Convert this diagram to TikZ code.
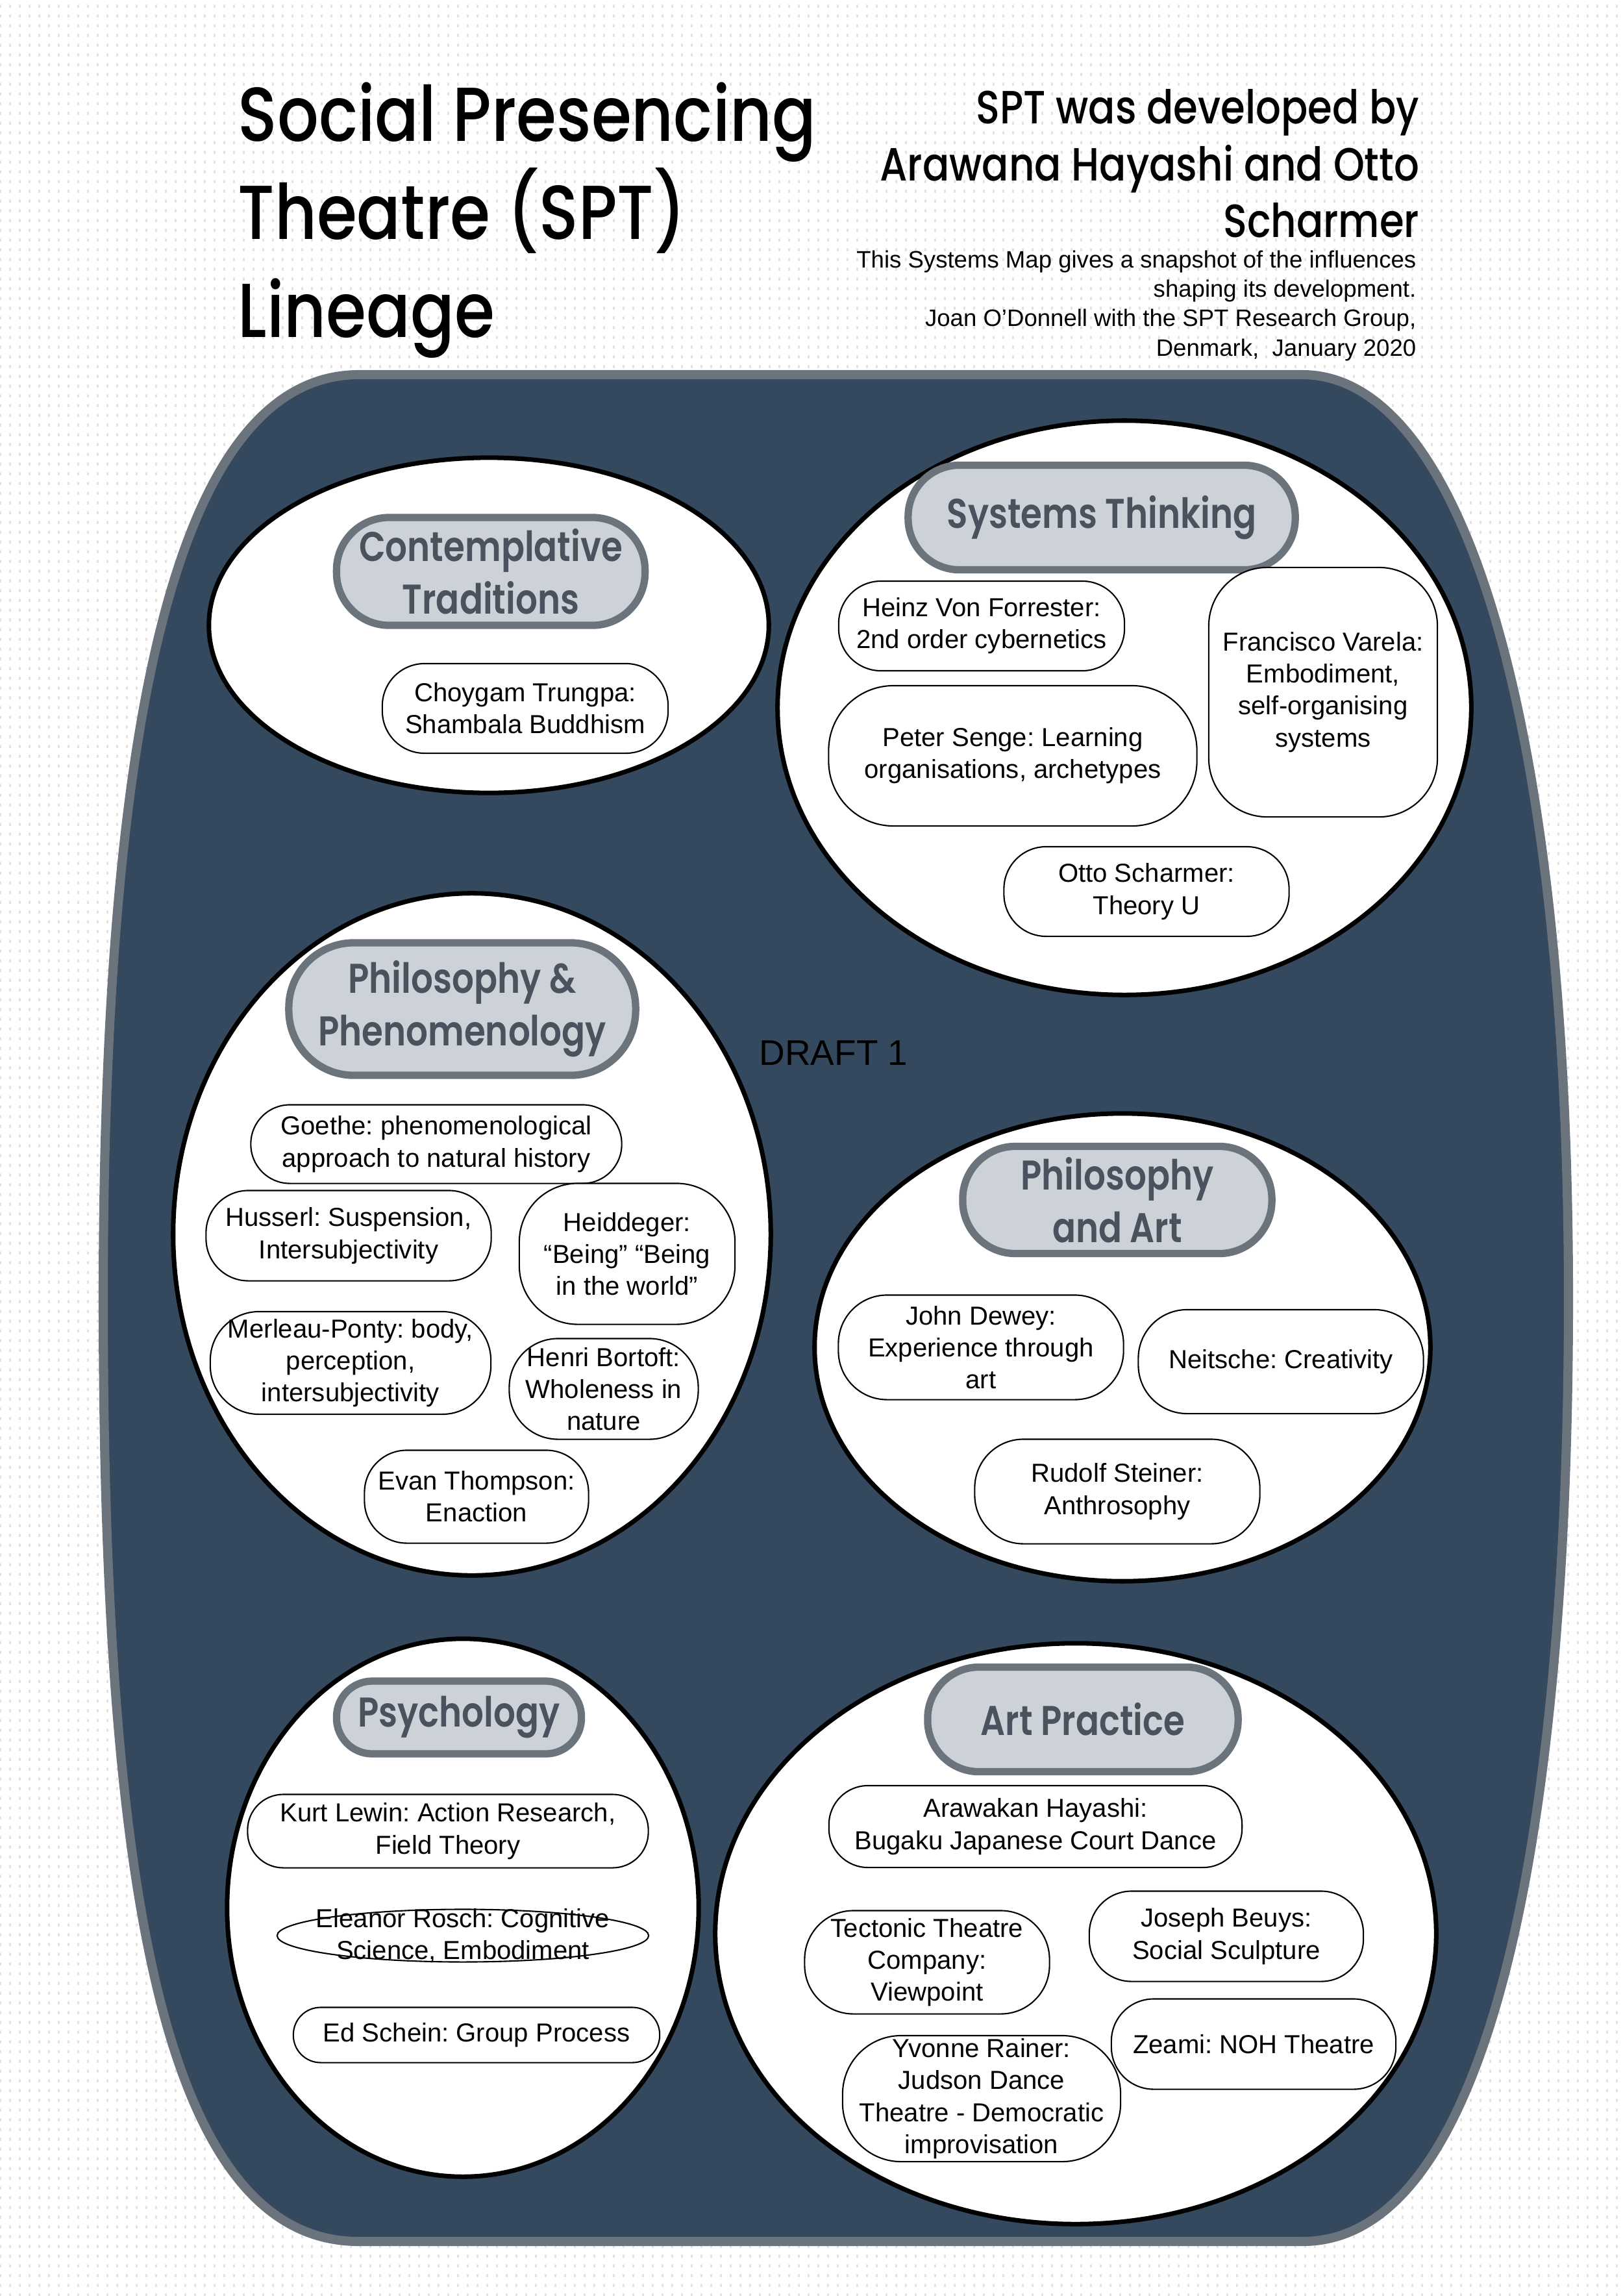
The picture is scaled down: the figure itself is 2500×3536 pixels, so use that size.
\documentclass[tikz,border=0pt]{standalone}
\usepackage{fontspec}
\setmainfont{Liberation Sans}
\newfontfamily\geofont{Poppins Medium}[FakeStretch=0.85]
\newfontfamily\geobold{Poppins SemiBold}[FakeStretch=0.83]
\usetikzlibrary{shapes.geometric, patterns.meta}
\frenchspacing

\definecolor{slate}{HTML}{35495E}
\definecolor{rim}{HTML}{6B737D}
\definecolor{pillfill}{HTML}{CDD1D8}
\definecolor{pilltext}{HTML}{4A525D}
\definecolor{paper}{HTML}{E2E2E2}

\newcommand\titlefont{\geofont\fontsize{33.5}{43}\selectfont}
\newcommand\devfont{\geofont\fontsize{20.4}{24.8}\selectfont}
\newcommand\badgefont{\geobold\fontsize{18.2}{23}\selectfont}
\newcommand\creditfont{\fontsize{10.4}{12.9}\selectfont}
\newcommand\ideafont{\fontsize{11.4}{14}\selectfont}

\tikzdeclarepattern{
  name=paperdots,
  type=uncolored,
  bounding box={(0,0) and (0.15,0.15)},
  tile size={(0.15,0.15)},
  code={\fill (0,0) rectangle (0.03,0.05);}
}

\tikzset{
  field/.style={ellipse, draw=black, line width=2pt, fill=white, inner sep=0pt},
  badge/.style={draw=rim, line width=3.2pt, fill=pillfill, rounded corners=#1,
    text=pilltext, align=center, font=\badgefont, inner sep=0pt},
  idea/.style={draw=black, line width=0.6pt, fill=white, rounded corners=#1,
    align=center, font=\ideafont, inner sep=0pt},
  idea/.default=0.65cm
}

\begin{document}
\begin{tikzpicture}[x=0.01cm, y=-0.01cm]
    \useasboundingbox (0,0) rectangle (2500,3536);
    \fill[pattern=paperdots, pattern color=paper] (0,0) rectangle (2500,3536);

    % the big slate board
    \draw[line width=4pt, draw=rim, fill=slate] (553,577) -- (2006,577)
        .. controls (2250,577) and (2416,1100) .. (2416,2000)
        .. controls (2416,2800) and (2300,3452) .. (2006,3452) -- (553,3452)
        .. controls (250,3452) and (159,2900) .. (159,2000)
        .. controls (159,1200) and (250,577) .. (553,577) -- cycle;

    % headings
    \node[anchor=north west, align=left, font=\titlefont, inner sep=0pt] (title) at (366,126)
        {Social Presencing\\Theatre (SPT)\\Lineage};
    \node[anchor=north east, align=right, font=\devfont, inner sep=0pt] (developers) at (2187,137)
        {SPT was developed by\\Arawana Hayashi and Otto\\Scharmer};
    \node[anchor=north east, align=right, font=\creditfont, inner sep=0pt] (credits) at (2182,385)
        {This Systems Map gives a snapshot of the influences\\shaping its development.\\Joan O’Donnell with the SPT Research Group,\\Denmark,~ January 2020};
    \node[font=\fontsize{15.6}{18}\selectfont] (draft) at (1284,1622) {DRAFT 1};

    % the six fields
    \node[field, minimum width=8.62cm, minimum height=5.16cm] (contemplative) at (753,963) {};
    \node[field, minimum width=10.68cm, minimum height=8.84cm] (systems) at (1732,1090) {};
    \node[field, minimum width=9.20cm, minimum height=10.50cm] (phenomenology) at (727,1901) {};
    \node[field, minimum width=9.48cm, minimum height=7.20cm] (philart) at (1729,2075) {};
    \node[field, minimum width=7.26cm, minimum height=8.28cm] (psychology) at (713,2938) {};
    \node[field, minimum width=11.10cm, minimum height=8.94cm] (practice) at (1657,2978) {};

    % field badges
    \node[badge=0.81cm, minimum width=4.75cm, minimum height=1.66cm] (contemplativeB) at (756,880) {Contemplative\\Traditions};
    \node[badge=0.79cm, minimum width=5.96cm, minimum height=1.61cm] (systemsB) at (1697,797) {Systems Thinking};
    \node[badge=1cm, minimum width=5.34cm, minimum height=2.04cm] (phenomenologyB) at (712,1554) {Philosophy \&\\Phenomenology};
    \node[badge=0.81cm, minimum width=4.76cm, minimum height=1.65cm] (philartB) at (1721,1848) {Philosophy\\and Art};
    \node[badge=0.55cm, minimum width=3.77cm, minimum height=1.12cm] (psychologyB) at (707,2645) {Psychology};
    \node[badge=0.79cm, minimum width=4.78cm, minimum height=1.61cm] (practiceB) at (1668,2648) {Art Practice};

    % influences
    \node[idea, minimum width=4.40cm, minimum height=1.38cm] (trungpa) at (809,1091) {Choygam Trungpa:\\Shambala Buddhism};

    \node[idea, minimum width=4.40cm, minimum height=1.38cm] (forrester) at (1512,964) {Heinz Von Forrester:\\2nd order cybernetics};
    \node[idea=1cm, minimum width=5.67cm, minimum height=2.16cm] (senge) at (1560,1164) {Peter Senge: Learning\\organisations, archetypes};
    \node[idea=0.9cm, minimum width=3.52cm, minimum height=3.84cm] (varela) at (2038,1066) {Francisco Varela:\\Embodiment,\\self-organising\\systems};
    \node[idea, minimum width=4.39cm, minimum height=1.38cm] (scharmer) at (1766,1373) {Otto Scharmer:\\Theory U};

    \node[idea=0.6cm, minimum width=5.71cm, minimum height=1.21cm] (goethe) at (672,1762) {Goethe: phenomenological\\approach to natural history};
    \node[idea, minimum width=4.39cm, minimum height=1.39cm] (husserl) at (537,1903) {Husserl: Suspension,\\Intersubjectivity};
    \node[idea=0.9cm, minimum width=3.32cm, minimum height=2.17cm] (heidegger) at (966,1931) {Heiddeger:\\“Being” “Being\\in the world”};
    \node[idea=0.75cm, minimum width=4.32cm, minimum height=1.58cm] (merleau) at (540,2099) {Merleau-Ponty: body,\\perception,\\intersubjectivity};
    \node[idea=0.75cm, minimum width=2.91cm, minimum height=1.55cm] (bortoft) at (930,2139) {Henri Bortoft:\\Wholeness in\\nature};
    \node[idea, minimum width=3.45cm, minimum height=1.43cm] (thompson) at (734,2305) {Evan Thompson:\\Enaction};

    \node[idea=0.75cm, minimum width=4.39cm, minimum height=1.61cm] (dewey) at (1511,2075) {John Dewey:\\Experience through\\art};
    \node[idea=0.75cm, minimum width=4.39cm, minimum height=1.60cm] (neitsche) at (1973,2097) {Neitsche: Creativity};
    \node[idea=0.75cm, minimum width=4.39cm, minimum height=1.61cm] (steiner) at (1721,2297) {Rudolf Steiner:\\Anthrosophy};

    \node[idea=0.55cm, minimum width=6.17cm, minimum height=1.13cm] (lewin) at (690,2820) {Kurt Lewin: Action Research,\\Field Theory};
    \node[font=\ideafont, align=center, inner sep=0pt] (rosch) at (713,2981) {Eleanor Rosch: Cognitive\\Science, Embodiment};
    \draw[line width=0.6pt] (rosch.center) ellipse [x radius=2.86cm, y radius=0.405cm];
    \node[idea=0.42cm, minimum width=5.64cm, minimum height=0.85cm] (schein) at (734,3134) {Ed Schein: Group Process};

    \node[idea=0.6cm, minimum width=6.36cm, minimum height=1.26cm] (hayashi) at (1595,2813) {Arawakan Hayashi:\\Bugaku Japanese Court Dance};
    \node[idea=0.75cm, minimum width=3.77cm, minimum height=1.59cm] (tectonic) at (1428,3022) {Tectonic Theatre\\Company:\\Viewpoint};
    \node[idea, minimum width=4.22cm, minimum height=1.39cm] (beuys) at (1889,2982) {Joseph Beuys:\\Social Sculpture};
    \node[idea, minimum width=4.38cm, minimum height=1.39cm] (zeami) at (1931,3148) {Zeami: NOH Theatre};
    \node[idea=0.9cm, minimum width=4.28cm, minimum height=1.94cm] (rainer) at (1512,3232) {Yvonne Rainer:\\Judson Dance\\Theatre - Democratic\\improvisation};
\end{tikzpicture}
\end{document}
